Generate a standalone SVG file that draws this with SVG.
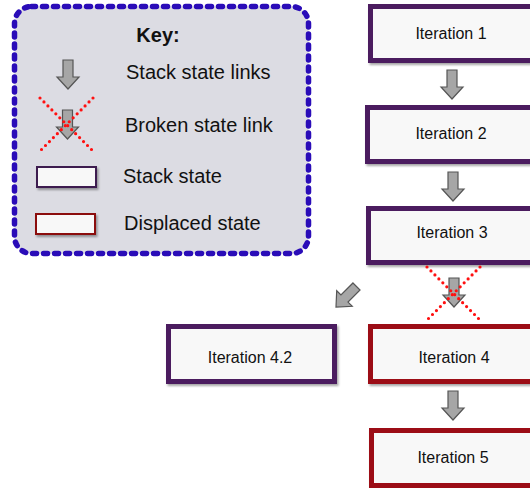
<svg xmlns="http://www.w3.org/2000/svg" width="530" height="488" viewBox="0 0 530 488">
<defs>
<style>
text{font-family:"Liberation Sans",Arial,sans-serif;fill:#111}
.key{font-size:20px}
.it{font-size:16px;text-anchor:middle}
.stack{fill:#f8f8f8;stroke:#4b1f5e;stroke-width:5}
.disp{fill:#f8f8f8;stroke:#9c0f13;stroke-width:5}
.arrow{fill:#a6a6a6;stroke:#555;stroke-width:1.2;stroke-linejoin:miter}
.x{stroke:#ff1010;stroke-width:3.2;stroke-linecap:round;stroke-dasharray:0 5.6;fill:none}
</style>
<filter id="sh" x="-10%" y="-10%" width="130%" height="140%">
<feDropShadow dx="1.5" dy="2" stdDeviation="1.2" flood-color="#000" flood-opacity="0.35"/>
</filter>
<path id="darr" d="M-5,0 H5 V17 H11 L0,29 L-11,17 H-5 Z"/>
</defs>

<g id="key">
<rect x="14.5" y="6.5" width="294" height="247" rx="17" fill="#dcdce3" stroke="#2a0cb8" stroke-width="5.5" stroke-dasharray="4 7" stroke-linecap="round"/>
<text x="158" y="42" class="key" font-weight="bold" text-anchor="middle">Key:</text>
<use href="#darr" class="arrow" transform="translate(68,60)"/>
<text x="126" y="79" class="key">Stack state links</text>
<use href="#darr" class="arrow" transform="translate(67.5,110)"/>
<line class="x" x1="40" y1="98" x2="93" y2="151"/>
<line class="x" x1="93" y1="98" x2="40" y2="151"/>
<text x="125" y="132" class="key">Broken state link</text>
<rect x="37" y="167" width="59" height="20" fill="#f8f8f8" stroke="#3d1a50" stroke-width="2" filter="url(#sh)"/>
<text x="123" y="183" class="key">Stack state</text>
<rect x="36" y="214" width="59" height="20" fill="#f8f8f8" stroke="#8b1010" stroke-width="2" filter="url(#sh)"/>
<text x="124" y="230" class="key">Displaced state</text>
</g>

<g id="iter1">
<rect class="stack" x="370.5" y="6.5" width="175" height="54" filter="url(#sh)"/>
<text class="it" x="451" y="39">Iteration 1</text>
</g>
<g id="iter2">
<rect class="stack" x="367.5" y="107.5" width="175" height="54" filter="url(#sh)"/>
<text class="it" x="451" y="139">Iteration 2</text>
</g>
<g id="iter3">
<rect class="stack" x="368.5" y="208.5" width="175" height="54" filter="url(#sh)"/>
<text class="it" x="452" y="238">Iteration 3</text>
</g>
<g id="iter42">
<rect class="stack" x="168.5" y="326.5" width="166" height="55" filter="url(#sh)"/>
<text class="it" x="250" y="363">Iteration 4.2</text>
</g>
<g id="iter4">
<rect class="disp" x="370.5" y="326.5" width="175" height="55" filter="url(#sh)"/>
<text class="it" x="454" y="363">Iteration 4</text>
</g>
<g id="iter5">
<rect class="disp" x="371.5" y="430.5" width="175" height="55" filter="url(#sh)"/>
<text class="it" x="453" y="463">Iteration 5</text>
</g>

<g id="connectors">
<use href="#darr" class="arrow" transform="translate(452,70)"/>
<use href="#darr" class="arrow" transform="translate(453,172)"/>
<use href="#darr" class="arrow" transform="translate(454,278)"/>
<line class="x" x1="427" y1="267" x2="480" y2="320"/>
<line class="x" x1="480" y1="267" x2="427" y2="320"/>
<use href="#darr" class="arrow" transform="translate(356.5,286.5) rotate(45)"/>
<use href="#darr" class="arrow" transform="translate(453,391)"/>
</g>
</svg>
